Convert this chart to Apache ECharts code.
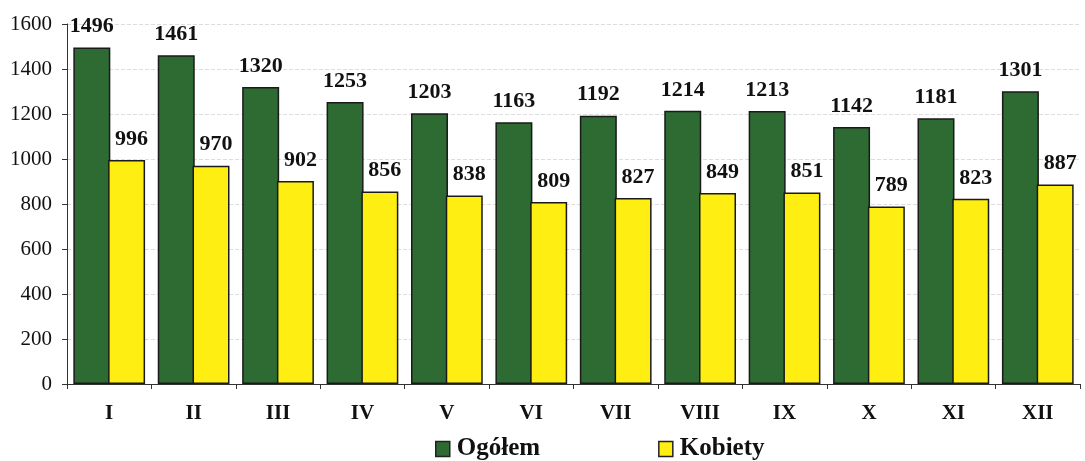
<!DOCTYPE html>
<html><head><meta charset="utf-8">
<script src="https://cdn.jsdelivr.net/npm/echarts@6/dist/echarts.min.js"></script>
<style>html,body{margin:0;padding:0;background:#fff}#c{width:1085px;height:461px}</style>
</head><body><div id="c"></div>
<script>
const months = ['I','II','III','IV','V','VI','VII','VIII','IX','X','XI','XII'];
const ogolem = [1496,1461,1320,1253,1203,1163,1192,1214,1213,1142,1181,1301];
const kobiety = [996,970,902,856,838,809,827,849,851,789,823,887];
const yTicks = [0,200,400,600,800,1000,1200,1400,1600];
const serif = '"Liberation Serif", "Times New Roman", serif';
const chart = echarts.init(document.getElementById('c'));
chart.setOption({
  animation:false,
  grid:{left:67,right:5,top:24,bottom:77},
  legend:{
    top:436, left:435, itemGap:118, itemWidth:14, itemHeight:15,
    icon:'rect', padding:0,
    itemStyle:{borderColor:'#222',borderWidth:1.5},
    textStyle:{fontFamily:serif,fontWeight:'bold',fontSize:25,lineHeight:26,color:'#111',padding:[0,0,0,2]},
    data:['Ogółem','Kobiety']
  },
  xAxis:{
    type:'category', data:months,
    axisLine:{lineStyle:{color:'#333',width:1}},
    axisTick:{show:true,length:5,lineStyle:{color:'#333'}},
    axisLabel:{fontFamily:serif,fontWeight:'bold',fontSize:21,color:'#111',margin:19}
  },
  yAxis:{
    type:'value', min:yTicks[0], max:yTicks[yTicks.length-1], interval:200,
    axisLine:{show:true,lineStyle:{color:'#333'}},
    axisTick:{show:true,length:5,lineStyle:{color:'#333'}},
    axisLabel:{fontFamily:serif,fontSize:21,color:'#111',margin:15,formatter:v=>String(v)},
    splitLine:{lineStyle:{color:'#ddd',type:'dashed'}}
  },
  series:[
    {name:'Ogółem',type:'bar',data:ogolem,barGap:'-6%',barCategoryGap:'15%',
     itemStyle:{color:'#2d6b33',borderColor:'#1a1a1a',borderWidth:1.5},
     label:{show:true,position:'top',distance:10,fontFamily:serif,fontWeight:'bold',fontSize:22,color:'#111'}},
    {name:'Kobiety',type:'bar',data:kobiety,
     itemStyle:{color:'#ffee11',borderColor:'#1a1a1a',borderWidth:1.5},
     label:{show:true,position:'top',distance:10,offset:[5,0],fontFamily:serif,fontWeight:'bold',fontSize:22,color:'#111'}}
  ]
});
</script></body></html>
